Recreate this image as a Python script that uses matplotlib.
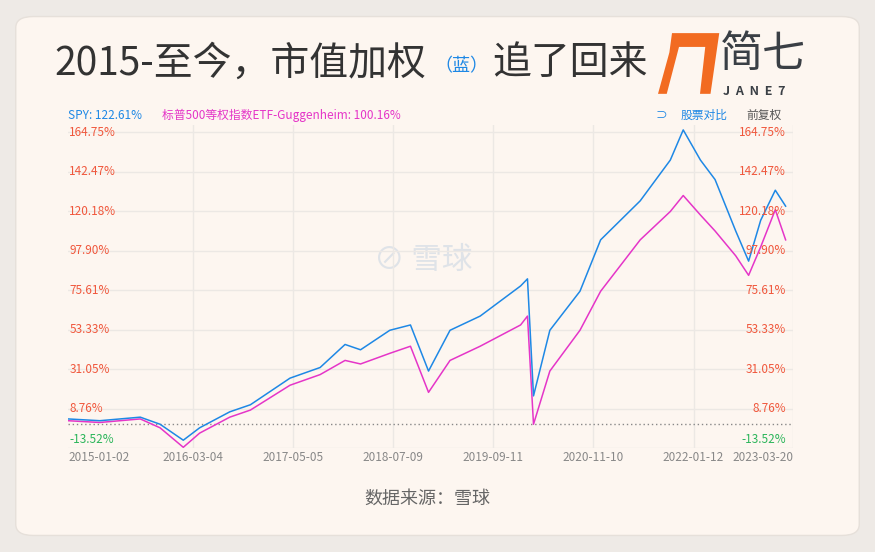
import matplotlib.pyplot as plt
from matplotlib.patches import FancyBboxPatch, Polygon

plt.rcParams["font.family"] = ["Noto Sans CJK SC"]

# decimal-year positions of the read-off points
years = [2014.80, 2015.17, 2015.64, 2015.87, 2016.14, 2016.33, 2016.68, 2016.92, 2017.38, 2017.73,
         2018.02, 2018.20, 2018.54, 2018.78, 2018.99, 2019.24, 2019.59, 2020.06, 2020.14, 2020.21,
         2020.40, 2020.75, 2020.99, 2021.45, 2021.80, 2021.95, 2022.15, 2022.32, 2022.56, 2022.71,
         2022.85, 2023.02, 2023.14]
spy = [3, 2, 4, 0, -9, -2, 7, 11, 26, 32, 45, 42, 53, 56, 30, 53, 61, 78, 82, 16,
       53, 75, 104, 126, 149, 166, 149, 138, 109, 92, 115, 132, 123]
rsp = [2, 1, 3, -2, -13, -5, 4, 8, 22, 28, 36, 34, 40, 44, 18, 36, 44, 56, 61, 0,
       30, 53, 75, 104, 120, 129, 118, 109, 95, 84, 100, 121, 104]
ytick_vals = [164.75, 142.47, 120.18, 97.90, 75.61, 53.33, 31.05, 8.76, -13.52]
xtick_pos = [2014.80, 2016.25, 2017.42, 2018.58, 2019.74, 2020.90, 2022.07, 2023.23]
xtick_labels = ["2015-01-02", "2016-03-04", "2017-05-05", "2018-07-09",
                "2019-09-11", "2020-11-10", "2022-01-12", "2023-03-20"]

fig = plt.figure(figsize=(8.75, 5.52), dpi=100)
fig.patch.set_facecolor("#eeeae6")
card = FancyBboxPatch((0.018, 0.03), 0.964, 0.94, boxstyle="round,pad=0,rounding_size=0.02",
                      transform=fig.transFigure, facecolor="#fdf6f0", edgecolor="#e6e0da", lw=1,
                      zorder=-10)
fig.patches.append(card)

# title
fig.text(0.062, 0.885, "2015-至今，市值加权", fontsize=28, color="#333333", va="center")
fig.text(0.497, 0.88, "（蓝）", fontsize=13, color="#1e88e5", va="center")
fig.text(0.562, 0.885, "追了回来", fontsize=28, color="#333333", va="center")

# logo
logo = Polygon([[0.768, 0.94], [0.822, 0.94], [0.812, 0.83], [0.800, 0.83],
                [0.806, 0.915], [0.776, 0.915], [0.762, 0.83], [0.752, 0.83], [0.765, 0.905]],
               closed=True, transform=fig.transFigure, facecolor="#f26b21", edgecolor="none")
fig.patches.append(logo)
fig.text(0.823, 0.9, "简七", fontsize=31, color="#3a3f45", va="center")
fig.text(0.826, 0.835, "J  A  N  E  7", fontsize=9, color="#3a3f45", va="center", fontweight="bold")

ax = fig.add_axes([0.0777, 0.188, 0.829, 0.585])
ax.set_facecolor("#fdf6f0")
ax.set_xlim(2014.80, 2023.23)
ax.set_ylim(-13.52, 168.6)
for s in ax.spines.values():
    s.set_visible(False)
ax.set_xticks(xtick_pos[1:])
ax.set_yticks(ytick_vals)
ax.tick_params(length=0, labelleft=False, labelbottom=False)
ax.grid(color="#ece8e4", lw=1)

ax.axhline(0, color="#888888", ls=(0, (1, 2)), lw=1)
ax.plot(years, rsp, color="#e535c8", lw=1.1)
ax.plot(years, spy, color="#1e88e5", lw=1.1)

for v in ytick_vals:
    c = "#2bb55a" if v < 0 else "#f0573c"
    off = 6 if v < 0 else 0
    ax.annotate(f"{v:.2f}%", (0, v), xycoords=ax.get_yaxis_transform(), xytext=(1, off),
                textcoords="offset points", ha="left", va="center", fontsize=8.5, color=c)
    ax.annotate(f"{v:.2f}%", (0.99, v), xycoords=ax.get_yaxis_transform(), xytext=(0, off),
                textcoords="offset points", ha="right", va="center", fontsize=8.5, color=c)

for i, (p, lab) in enumerate(zip(xtick_pos, xtick_labels)):
    ha = "left" if i == 0 else ("right" if i == len(xtick_pos) - 1 else "center")
    ax.annotate(lab, (p, 0), xycoords=ax.get_xaxis_transform(), xytext=(0, -7),
                textcoords="offset points", ha=ha, va="center",
                fontsize=8.5, color="#888888")

ax.text(0, 1.02, "SPY: 122.61%", transform=ax.transAxes, fontsize=8.5, color="#1e88e5")
ax.text(0.13, 1.02, "标普500等权指数ETF-Guggenheim: 100.16%", transform=ax.transAxes,
        fontsize=8.5, color="#e535c8")
ax.text(0.81, 1.02, "⊃", transform=ax.transAxes, fontsize=8.5, color="#1e88e5")
ax.text(0.845, 1.02, "股票对比", transform=ax.transAxes, fontsize=8.5, color="#1e88e5")
ax.text(0.935, 1.02, "前复权", transform=ax.transAxes, fontsize=8.5, color="#555555")

# watermark
ax.text(0.49, 0.58, "⊘ 雪球", transform=ax.transAxes, fontsize=22, color="#dfe3e8",
        ha="center", va="center", zorder=0)

fig.text(0.488, 0.097, "数据来源：雪球", fontsize=13, color="#666666", ha="center", va="center")

fig.savefig("out.png", dpi=100, facecolor=fig.get_facecolor())
